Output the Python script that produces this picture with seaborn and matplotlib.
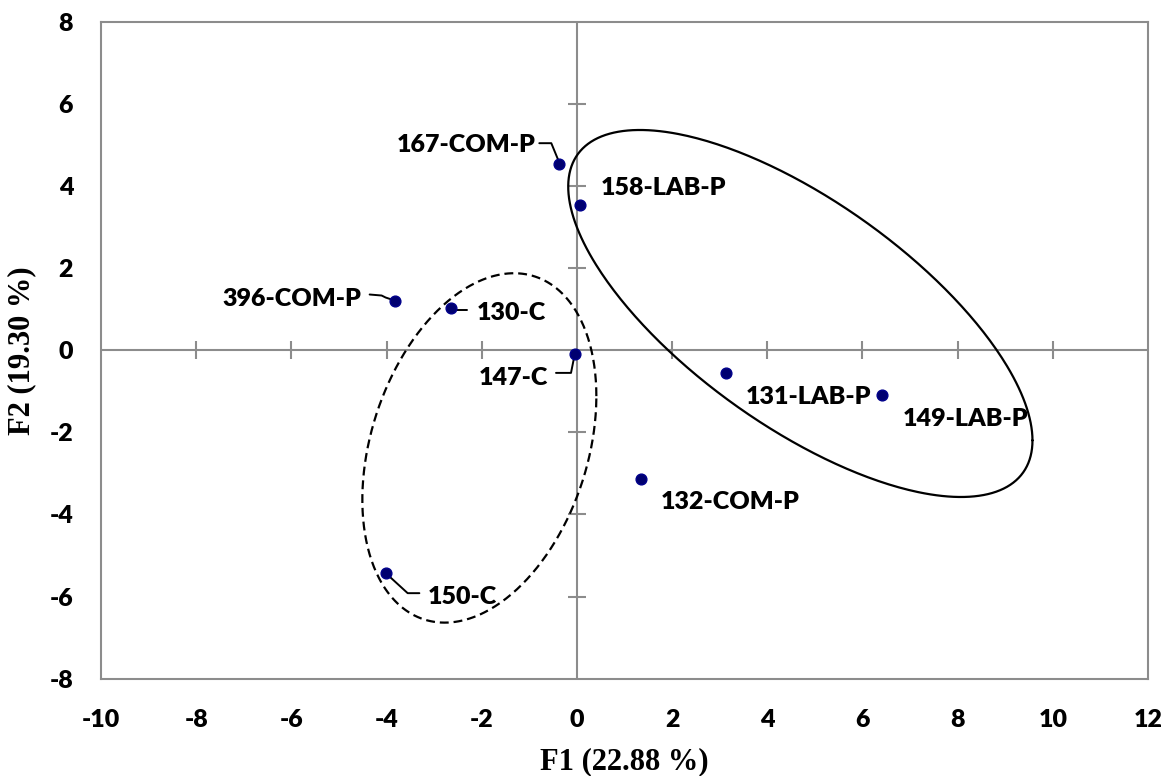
import numpy as np
import pandas as pd
import matplotlib
matplotlib.use("Agg")
import matplotlib.pyplot as plt
import matplotlib.transforms as mtransforms
import seaborn as sns

# ---------------- data ----------------
labels = ["167-COM-P", "158-LAB-P", "396-COM-P", "130-C", "147-C",
          "131-LAB-P", "149-LAB-P", "132-COM-P", "150-C"]
f1 = [-0.37, 0.07, -3.83, -2.64, -0.04, 3.13, 6.41, 1.34, -4.01]
f2 = [4.53, 3.54, 1.21, 1.02, -0.09, -0.56, -1.09, -3.14, -5.43]

x_ticks = [-10, -8, -6, -4, -2, 0, 2, 4, 6, 8, 10, 12]
y_ticks = [-8, -6, -4, -2, 0, 2, 4, 6, 8]

# ellipses: centre and covariance-like shape (data units)
ell_solid_center = (4.695, 0.894)
ell_solid_shape = [[23.79, -15.07], [-15.07, 19.97]]
ell_dash_center = (-2.05, -2.38)
ell_dash_shape = [[6.045, 3.10], [3.10, 18.10]]

df = pd.DataFrame({"F1": f1, "F2": f2, "label": labels})

# ---------------- style ----------------
sns.set_style("white")
plt.rcParams["font.family"] = ["Lato", "DejaVu Sans"]
plt.rcParams["text.color"] = "black"
plt.rcParams["axes.labelcolor"] = "black"
WEIGHT = "heavy"

fig = plt.figure(figsize=(11.72, 7.76), dpi=100)
ax = fig.add_axes([101 / 1172, 1 - 678.7 / 776, (1148 - 101) / 1172, (678.7 - 21.7) / 776])

axis_gray = "#8c8c8c"

# zero axes
ax.axhline(0, color=axis_gray, lw=1.5, zorder=1)
ax.axvline(0, color=axis_gray, lw=1.5, zorder=1)
# cross ticks on zero axes
xt_inner = [t for t in x_ticks if t not in (x_ticks[0], x_ticks[-1], 0)]
yt_inner = [t for t in y_ticks if t not in (y_ticks[0], y_ticks[-1], 0)]
ax.plot(xt_inner, [0] * len(xt_inner), ls="none", marker="|", ms=13,
        mew=1.5, color=axis_gray, zorder=1)
ax.plot([0] * len(yt_inner), yt_inner, ls="none", marker="_", ms=13,
        mew=1.5, color=axis_gray, zorder=1)

# ellipses
t = np.linspace(0, 2 * np.pi, 400)
circle = np.vstack([np.cos(t), np.sin(t)])
for cen, shp, ls in [(ell_solid_center, ell_solid_shape, "-"),
                     (ell_dash_center, ell_dash_shape, (0, (4, 2.2)))]:
    L = np.linalg.cholesky(np.array(shp))
    pts = L @ circle
    ax.plot(pts[0] + cen[0], pts[1] + cen[1], color="black", lw=1.6,
            ls=ls, zorder=2)

# points
sns.scatterplot(data=df, x="F1", y="F2", ax=ax, s=60, color="#000070",
                edgecolor="#00008b", linewidth=1.0, zorder=4, legend=False)

ax.set_xlim(x_ticks[0], x_ticks[-1])
ax.set_ylim(y_ticks[0], y_ticks[-1])
ax.set_xticks(x_ticks)
ax.set_yticks(y_ticks)
ax.set_xticklabels([str(v) for v in x_ticks])
ax.set_yticklabels([str(v) for v in y_ticks])
ax.tick_params(axis="both", length=0, labelsize=18, pad=0, labelcolor="black")
ax.tick_params(axis="x", pad=22)
ax.tick_params(axis="y", pad=20)
for lab in ax.get_xticklabels() + ax.get_yticklabels():
    lab.set_fontweight(WEIGHT)
for sp in ax.spines.values():
    sp.set_color(axis_gray)
    sp.set_linewidth(1.5)

ax.set_xlabel("F1 (22.88 %)", fontsize=22, fontweight="bold", color="black",
              family=["Liberation Serif", "DejaVu Serif"])
ax.set_ylabel("F2 (19.30 %)", fontsize=22, fontweight="bold", color="black",
              family=["Liberation Serif", "DejaVu Serif"])
ax.xaxis.label.set_va("center")
ax.yaxis.label.set_va("center")
ax.xaxis.set_label_coords(0.5, -(762 - 678.7) / 657)
ax.yaxis.set_label_coords((22 - 101) / 1047, 0.5)

# labels: (text offset in px (dx, dy screen-down), ha, leader vertices in px)
label_specs = {
    "167-COM-P": ((-24, -21), "right", [(-20, -21), (-8, -21), (-1, -4)]),
    "158-LAB-P": ((21, -19), "left", None),
    "396-COM-P": ((-33, -4), "right", [(-25, -6), (-13, -5), (-9, -3), (-3, -1)]),
    "130-C": ((25, 3), "left", [(5, 2), (16, 2)]),
    "147-C": ((-27, 22), "right", [(-1, 4), (-4, 19), (-19, 19)]),
    "131-LAB-P": ((20, 22), "left", None),
    "149-LAB-P": ((21, 22), "left", None),
    "132-COM-P": ((20, 21), "left", None),
    "150-C": ((42, 22), "left", [(3, 3), (21.6, 20), (33.3, 20)]),
}

flip = mtransforms.Affine2D().scale(1, -1)
for xv, yv, name in zip(f1, f2, labels):
    (dx, dy), ha, leader = label_specs[name]
    ax.annotate(name, (xv, yv), xytext=(dx, -dy - 9), textcoords="offset pixels",
                ha=ha, va="baseline", fontsize=18, fontweight=WEIGHT,
                color="black", zorder=5)
    if leader:
        tr = flip + mtransforms.ScaledTranslation(xv, yv, ax.transData)
        lx = [p[0] for p in leader]
        ly = [p[1] for p in leader]
        ax.plot(lx, ly, color="black", lw=1.4, transform=tr, zorder=3,
                clip_on=False)

fig.savefig("out.png", dpi=100)
